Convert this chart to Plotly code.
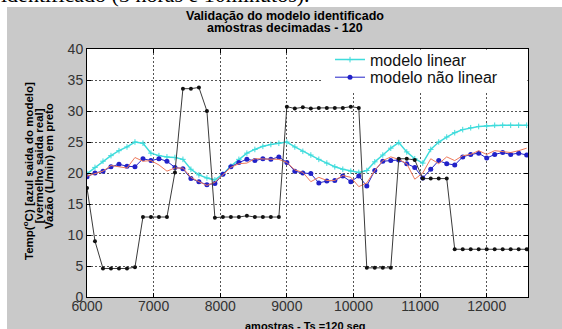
import plotly.graph_objects as go

# sample index -> amostras (Ts = 120)
amostras = [6000 + 120 * k for k in range(56)]

vazao = [17.6, 9.0, 4.6, 4.6, 4.6, 4.6, 4.8, 12.9, 12.9, 12.9,
         12.9, 20.1, 33.6, 33.6, 33.8, 30.0, 12.8, 12.9, 12.9, 12.9,
         13.1, 12.9, 12.9, 12.9, 12.9, 30.7, 30.4, 30.6, 30.4, 30.5,
         30.5, 30.5, 30.5, 30.7, 30.5, 4.7, 4.7, 4.7, 4.7, 22.3,
         22.3, 22.1, 19.1, 19.1, 19.1, 19.1, 7.7, 7.7, 7.7, 7.7,
         7.7, 7.7, 7.7, 7.7, 7.7, 7.7]

modelo_linear = [19.9, 20.9, 21.9, 22.8, 23.6, 24.2, 25.0, 24.8, 23.2, 22.8,
                 22.6, 22.5, 22.2, 20.6, 19.7, 19.2, 18.9, 19.8, 21.1, 22.2,
                 23.2, 23.8, 24.3, 24.6, 24.8, 25.0, 24.2, 23.5, 22.9, 22.2,
                 21.6, 21.0, 20.6, 20.3, 20.1, 20.4, 21.8, 22.9, 24.0, 24.9,
                 23.4, 22.3, 21.6, 23.8, 25.0, 25.8, 26.5, 27.0, 27.3, 27.5,
                 27.6, 27.7, 27.7, 27.7, 27.7, 27.7]

modelo_nao_linear = [19.4, 20.0, 20.3, 21.0, 21.4, 21.1, 21.0, 22.3, 22.0, 22.3,
                     21.9, 20.9, 20.7, 19.1, 18.6, 18.1, 18.3, 19.8, 21.0, 21.7,
                     22.2, 22.0, 22.3, 22.2, 22.6, 21.7, 20.3, 20.0, 19.9, 18.4,
                     18.7, 18.8, 19.5, 18.6, 19.5, 17.9, 20.4, 21.9, 22.0, 22.1,
                     21.5, 20.9, 19.2, 20.6, 22.0, 21.5, 21.3, 22.6, 23.0, 23.2,
                     22.4, 23.0, 23.3, 23.0, 23.2, 22.9]

saida_real = [19.5, 19.9, 20.3, 21.2, 21.0, 20.8, 22.5, 21.9, 22.0, 21.3,
              20.3, 20.8, 20.8, 19.3, 18.6, 18.0, 18.5, 19.7, 20.9, 21.5,
              21.6, 22.3, 22.3, 22.3, 22.2, 21.7, 20.5, 20.1, 18.6, 19.3,
              18.8, 18.8, 19.6, 19.3, 17.8, 18.4, 20.4, 22.0, 22.6, 22.2,
              21.5, 19.0, 20.0, 22.3, 21.5, 22.6, 22.0, 22.8, 23.0, 23.6,
              23.0, 23.6, 23.4, 23.3, 23.6, 24.0]

x_ticks = [6000, 7000, 8000, 9000, 10000, 11000, 12000]
y_ticks = [0, 5, 10, 15, 20, 25, 30, 35, 40]

W, H = 562, 329
L, R, T, B = 87, 34, 49, 32
PW, PH = W - L - R, H - T - B


def px(xp):
    return (xp - L) / PW


def py(yp):
    return (H - B - yp) / PH


fig = go.Figure()
fig.add_trace(go.Scatter(x=amostras, y=modelo_linear, name="modelo linear",
                         mode="lines+markers", legend="legend",
                         line=dict(color="#3fdcdc", width=1.5),
                         marker=dict(symbol="cross-thin", size=4,
                                     line=dict(color="#3fdcdc", width=1))))
fig.add_trace(go.Scatter(x=amostras, y=modelo_nao_linear, name="modelo não linear",
                         mode="lines+markers", legend="legend2",
                         line=dict(color="#2222c8", width=1),
                         marker=dict(symbol="circle", size=5, color="#2222c8")))
fig.add_trace(go.Scatter(x=amostras, y=saida_real, name="saida real",
                         mode="lines", showlegend=False,
                         line=dict(color="#ee7a5c", width=1)))
fig.add_trace(go.Scatter(x=amostras, y=vazao, name="vazão",
                         mode="lines+markers", showlegend=False,
                         line=dict(color="#3a3a3a", width=1),
                         marker=dict(symbol="circle", size=4, color="#111111")))

axis_common = dict(showline=True, linecolor="#000000", linewidth=1, mirror="allticks",
                   ticks="inside", ticklen=4, tickcolor="#000000",
                   showgrid=True, gridcolor="#555555", gridwidth=1, griddash="2px,2px",
                   zeroline=False, tickformat="d",
                   tickfont=dict(family="Liberation Sans, Arial", size=14, color="#333333"))

fig.update_xaxes(range=[6000, 12620], tickvals=x_ticks, ticklabelstandoff=-4, **axis_common)
fig.update_yaxes(range=[0, 40], tickvals=y_ticks, **axis_common)

shapes = [
    # white strips outside the gray figure panel
    dict(type="rect", xref="paper", yref="paper", x0=px(-20), x1=px(W + 20),
         y0=py(7), y1=py(-20), fillcolor="white", line=dict(width=0), layer="below"),
    dict(type="rect", xref="paper", yref="paper", x0=px(-20), x1=px(7),
         y0=py(H + 20), y1=py(-20), fillcolor="white", line=dict(width=0), layer="below"),
    # legend area blank
    dict(type="rect", xref="paper", yref="paper", x0=px(323), x1=px(527.5),
         y0=py(93), y1=py(49.5), fillcolor="white", line=dict(width=0), layer="above"),
]

bold = "Liberation Sans, Arial"


def ann(text, x, y, xa="center", ya="middle", size=11, angle=0, family=bold):
    return dict(text=text, x=px(x), y=py(y), xref="paper", yref="paper",
                xanchor=xa, yanchor=ya, textangle=angle, showarrow=False,
                font=dict(family=family, size=size, color="#000000"))


annotations = [
    ann("identificado (3 horas e 10minutos).", -1, -5.5, xa="left", ya="middle", size=22,
        family="Liberation Serif, Times New Roman"),
    ann("<b>Validação do modelo identificado</b>", 284.5, 16.5, size=12.5),
    ann("<b>amostras decimadas - 120</b>", 284.5, 28.5, size=12.5),
    ann("<b>amostras - Ts =120 seg</b>", 305, 318, ya="top", size=11),
    ann("<b>Temp(<sup>o</sup>C) [azul saida do modelo]</b>", 28, 171, angle=-90, size=11.5),
    ann("<b>[vermelho saida real]</b>", 38.5, 166, angle=-90, size=11.5),
    ann("<b>Vazão (L/min) em preto</b>", 49, 166, angle=-90, size=11.5),
]

leg_common = dict(xanchor="left", yanchor="top", bgcolor="rgba(0,0,0,0)", borderwidth=0,
                  font=dict(family="Liberation Sans, Arial", size=16, color="#111111"),
                  itemwidth=30)

fig.update_layout(
    width=W, height=H,
    margin=dict(l=L, r=R, t=T, b=B, pad=0),
    paper_bgcolor="#c9c9c9",
    plot_bgcolor="#ffffff",
    shapes=shapes,
    annotations=annotations,
    showlegend=True,
    legend=dict(x=px(330), y=py(42.7), **leg_common),
    legend2=dict(x=px(330), y=py(60.3), **leg_common),
)

fig.write_html("out.html", config={"displayModeBar": False},
               post_script="document.body.style.margin='0';")
